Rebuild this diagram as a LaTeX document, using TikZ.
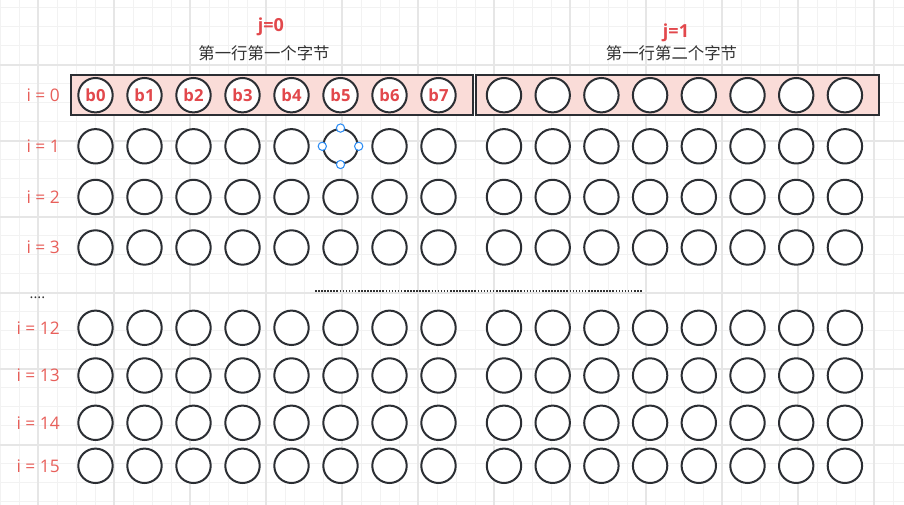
\documentclass[tikz,border=0pt]{standalone}
\usepackage{fontspec}
\setmainfont{Open Sans}[BoldFont={* Bold}]
\newfontfamily\cjk{Noto Sans CJK SC}
\definecolor{gridminor}{HTML}{F2F2F2}
\definecolor{gridmajor}{HTML}{E6E6E6}
\definecolor{lblred}{HTML}{E85F5A}
\definecolor{bred}{HTML}{E2484C}
\definecolor{pinkfill}{HTML}{FADCD8}
\definecolor{edgecol}{HTML}{2B2E33}
\definecolor{handlecol}{HTML}{2F8EF4}
\definecolor{txtgray}{HTML}{333333}
\tikzset{
  bit/.style={circle, draw=edgecol, fill=white, line width=1.5pt, minimum size=25.8pt, inner sep=0pt,
    text=bred, font=\fontsize{12.5}{14}\selectfont\bfseries},
  bytebox/.style={rectangle, draw=edgecol, fill=pinkfill, line width=1.5pt, inner sep=0pt},
  rowlbl/.style={text=lblred, font=\fontsize{13}{15}\selectfont, inner sep=0pt, anchor=east},
  jlbl/.style={text=bred, font=\fontsize{13.5}{15}\selectfont\bfseries, inner sep=0pt},
  cnlbl/.style={text=txtgray, font=\cjk\fontsize{12.3}{14}\selectfont, inner sep=0pt},
  handlept/.style={circle, draw=handlecol, fill=white, line width=0.8pt, minimum size=6.2pt, inner sep=0pt},
  sepline/.style={draw=txtgray, line width=1.3pt, dash pattern=on 1.2pt off 1.1pt}
}
\begin{document}
\begin{tikzpicture}[x=0.75pt,y=-0.75pt]
\useasboundingbox (0,0) rectangle (904,505);
\fill[white] (0,0) rectangle (904,505);
% grid
\foreach \gx in {0,19,...,904} \draw[gridminor, line width=0.75pt] (\gx,0) -- (\gx,505);
\foreach \gy in {8,27,...,505} \draw[gridminor, line width=0.75pt] (0,\gy) -- (904,\gy);
\foreach \gx in {38,114,...,904} \draw[gridmajor, line width=0.9pt] (\gx,0) -- (\gx,505);
\foreach \gy in {65,141,...,505} \draw[gridmajor, line width=0.9pt] (0,\gy) -- (904,\gy);
% headers
\node[jlbl] (j0) at (271,27) {j=0};
\node[cnlbl] (cn0) at (264,53) {第一行第一个字节};
\node[jlbl] (j1) at (676,33) {j=1};
\node[cnlbl] (cn1) at (671.5,53) {第一行第二个字节};
% byte boxes of row 0
\node[bytebox, minimum width=301.5pt, minimum height=30pt] (byte0) at (272,95.2) {};
\node[bytebox, minimum width=302.25pt, minimum height=30pt] (byte1) at (677.5,95.2) {};
% rows
\foreach \r/\yy/\lab in {0/95.2/0, 1/146.3/1, 2/197/2, 3/247.5/3, 12/327.8/12, 13/375.5/13, 14/422.8/14, 15/465.8/15} {
  \node[rowlbl] (lbl\r) at (60,\yy) {i = \lab};
  \foreach \k in {0,...,7} {
    \pgfmathsetmacro\xl{95.5+49*\k}
    \pgfmathsetmacro\xr{504+48.7*\k}
    \ifnum\r=0
      \node[bit] (L\r-\k) at (\xl,\yy) {b\k};
    \else
      \node[bit] (L\r-\k) at (\xl,\yy) {};
    \fi
    \node[bit] (R\r-\k) at (\xr,\yy) {};
  }
}
% selection handles
\node[handlept] (hn) at (L1-5.north) {};
\node[handlept] (hs) at (L1-5.south) {};
\node[handlept] (hw) at (L1-5.west) {};
\node[handlept] (he) at (L1-5.east) {};
% ellipsis
\node[text=txtgray, font=\fontsize{11}{13}\selectfont, inner sep=0pt, anchor=base] (dots) at (37.5,299) {....};
\coordinate (d1) at (315,290.7);
\coordinate (d2) at (642,290.7);
\draw[sepline] (d1) -- (d2);
\end{tikzpicture}
\end{document}
